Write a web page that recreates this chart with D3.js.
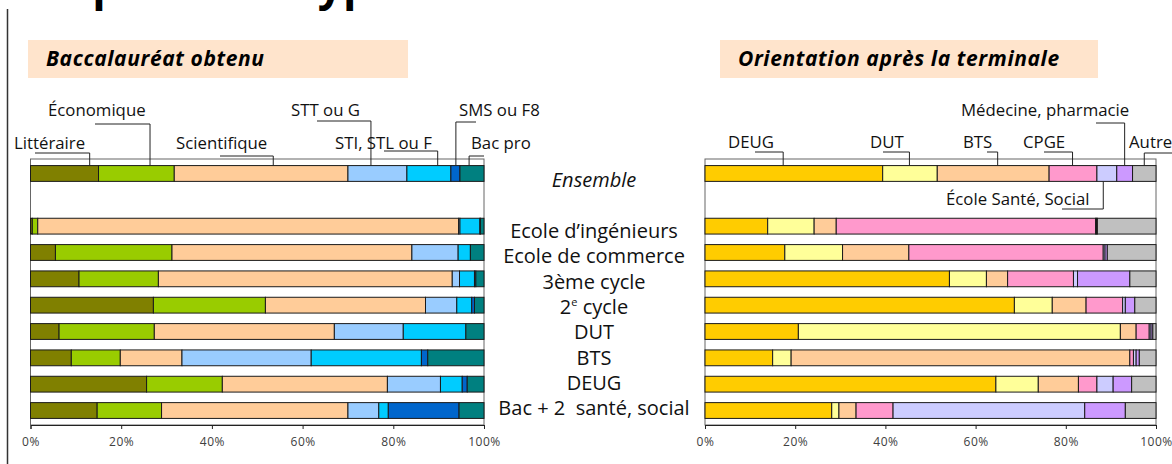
<!DOCTYPE html>
<html>
<head>
<meta charset="utf-8">
<script src="https://cdn.jsdelivr.net/npm/d3@7"></script>
<style>
  body { margin: 0; background: #fff; }
  svg { display: block; font-family: "Open Sans", "DejaVu Sans", sans-serif; }
</style>
</head>
<body>
<div id="chart"></div>
<script>
var W = 1172, H = 464;

// rows (the "" entry is the empty slot under Ensemble)
var rows = ["Ensemble", "", "Ecole d’ingénieurs", "Ecole de commerce", "3ème cycle", "2e cycle", "DUT", "BTS", "DEUG", "Bac + 2\u00a0 santé, social"];

// Baccalauréat obtenu
var bacSeries = ["Littéraire", "Économique", "Scientifique", "STT ou G", "STI, STL ou F", "SMS ou F8", "Bac pro"];
var bacColors = ["#808000", "#99cc00", "#ffcc99", "#99ccff", "#00ccff", "#0066cc", "#008080"];
var bacValues = [
  [15.0, 16.7, 38.3, 13.0, 9.7, 2.0, 5.3],
  null,
  [0.4, 1.2, 92.8, 0.3, 4.4, 0.1, 0.8],
  [5.5, 25.7, 52.9, 10.2, 2.7, 0.0, 3.0],
  [10.7, 17.5, 64.8, 1.6, 3.3, 0.3, 1.8],
  [27.1, 24.7, 35.3, 6.9, 3.3, 0.6, 2.1],
  [6.3, 21.0, 39.7, 15.2, 13.8, 0.0, 4.0],
  [9.0, 10.8, 13.6, 28.5, 24.3, 1.4, 12.4],
  [25.6, 16.7, 36.4, 11.7, 4.8, 1.1, 3.7],
  [14.7, 14.2, 41.1, 6.8, 2.1, 15.6, 5.5]
];

// Orientation après la terminale
var oriSeries = ["DEUG", "DUT", "BTS", "CPGE", "École Santé, Social", "Médecine, pharmacie", "Autre"];
var oriColors = ["#ffcc00", "#ffff99", "#ffcc99", "#ff99cc", "#ccccff", "#cc99ff", "#c0c0c0"];
var oriValues = [
  [39.4, 12.1, 24.8, 10.6, 4.4, 3.5, 5.2],
  null,
  [13.9, 10.3, 4.9, 57.5, 0.2, 0.2, 13.0],
  [17.7, 12.8, 14.7, 43.1, 0.4, 0.5, 10.8],
  [54.2, 8.2, 4.7, 14.6, 0.9, 11.6, 5.8],
  [68.6, 8.4, 7.5, 8.1, 0.6, 2.1, 4.7],
  [20.7, 71.4, 3.5, 2.9, 0.4, 0.4, 0.7],
  [15.0, 4.1, 75.1, 0.8, 0.6, 0.7, 3.7],
  [64.5, 9.4, 8.9, 4.1, 3.6, 4.1, 5.4],
  [28.1, 1.6, 3.8, 8.2, 42.5, 9.0, 6.8]
];

var ticks = [0, 20, 40, 60, 80, 100];

// leader label placement (frac = where in the Ensemble segment the leader lands)
var bacLabels = [
  {x: 14, y: 149, frac: 0.87, ly: 153, lx: 35},
  {x: 48, y: 116, frac: 0.68, ly: 124, lx: 95},
  {x: 176, y: 149, frac: 0.57, ly: 156, lx: 220},
  {x: 291, y: 116, frac: 0.39, ly: 121, lx: 317},
  {x: 335, y: 149, frac: 0.70, ly: 151, lx: 384},
  {x: 459, y: 116, frac: 0.55, ly: 122, lx: 476},
  {x: 471, y: 149, frac: 0.38, ly: 156, lx: 484}
];
var oriLabels = [
  {x: 728, y: 148, frac: 0.44, ly: 152, lx: 755},
  {x: 870, y: 148, frac: 0.49, ly: 152, lx: 883},
  {x: 963, y: 148, frac: 0.54, ly: 152, lx: 987},
  {x: 1023, y: 148, frac: 0.49, ly: 152, lx: 1044},
  {x: 946, y: 205, frac: 0.32, ly: 209, lx: 1062, below: true},
  {x: 961, y: 116, frac: 0.5, ly: 123, lx: 1096},
  {x: 1129, y: 148, frac: 0.5, ly: 153, lx: 1172}
];

var svg = d3.select("#chart").append("svg")
  .attr("width", W)
  .attr("height", H);

// page title, cut by the top edge as in the source page
svg.append("text")
  .attr("x", 30)
  .attr("y", 0)
  .attr("font-size", "44px")
  .attr("font-weight", "bold")
  .attr("fill", "#000")
  .text("Le parcours type des étudiants");

svg.append("line")
  .attr("x1", 7.5).attr("x2", 7.5)
  .attr("y1", 9).attr("y2", H)
  .attr("stroke", "#333")
  .attr("stroke-width", 1.5);

var y = d3.scaleBand()
  .domain(d3.range(rows.length))
  .range([159, 425])
  .paddingInner(0.4)
  .paddingOuter(0.25);

function panel(x0, x1, title, boxX, boxW, series, colors, values, labels) {
  var x = d3.scaleLinear().domain([0, 100]).range([x0, x1]);
  var g = svg.append("g");

  // header box
  g.append("rect")
    .attr("x", boxX).attr("y", 40)
    .attr("width", boxW).attr("height", 38)
    .attr("fill", "#ffe4cc");
  g.append("text")
    .attr("x", boxX + 18).attr("y", 66)
    .attr("font-size", "21px")
    .attr("letter-spacing", "0.6px")
    .attr("font-weight", "bold")
    .attr("font-style", "italic")
    .attr("fill", "#000")
    .text(title);

  // plot frame
  g.append("rect")
    .attr("x", x0).attr("y", y.range()[0])
    .attr("width", x1 - x0).attr("height", y.range()[1] - y.range()[0])
    .attr("fill", "none")
    .attr("stroke", "#666")
    .attr("stroke-width", 1);

  var table = [];
  values.forEach(function(v, i) {
    if (!v) return;
    var o = {row: i};
    series.forEach(function(s, j) { o[s] = v[j]; });
    table.push(o);
  });
  var stacked = d3.stack().keys(series)(table);

  g.selectAll("g.layer")
    .data(stacked)
    .enter().append("g")
    .attr("class", "layer")
    .attr("fill", function(d, i) { return colors[i]; })
    .selectAll("rect")
    .data(function(d) { return d; })
    .enter().append("rect")
    .attr("x", function(d) { return x(d[0]); })
    .attr("width", function(d) { return Math.max(0, x(d[1]) - x(d[0])); })
    .attr("y", function(d) { return y(d.data.row); })
    .attr("height", y.bandwidth())
    .attr("stroke", "#1a1a1a")
    .attr("stroke-width", 1);

  // axis
  var axis = d3.axisBottom(x)
    .tickValues(ticks)
    .tickSize(4)
    .tickFormat(function(d) { return d + "%"; });
  var ax = g.append("g")
    .attr("transform", "translate(0," + y.range()[1] + ")")
    .call(axis);
  ax.select(".domain").attr("stroke", "#222");
  ax.selectAll(".tick line").attr("stroke", "#222");
  ax.selectAll(".tick text")
    .attr("dy", "1.15em")
    .attr("font-size", "12px")
    .attr("letter-spacing", "0.5px")
    .attr("font-family", "'Open Sans', sans-serif")
    .attr("fill", "#404040");

  // leader labels on the Ensemble bar
  var ens = values[0];
  var cum = d3.cumsum(ens);
  labels.forEach(function(l, i) {
    var start = i === 0 ? 0 : cum[i - 1];
    var lx = x(start + l.frac * ens[i]);
    var barTop = y(0), barBot = y(0) + y.bandwidth();
    g.append("text")
      .attr("x", l.x).attr("y", l.y)
      .attr("font-size", "16.8px")
      .attr("fill", "#111")
      .text(series[i]);
    g.append("path")
      .attr("d", "M" + l.lx + "," + l.ly + "H" + lx + "V" + (l.below ? barBot : barTop))
      .attr("fill", "none")
      .attr("stroke", "#222")
      .attr("stroke-width", 1);
  });
}

panel(30.5, 484, "Baccalauréat obtenu", 28, 380, bacSeries, bacColors, bacValues, bacLabels);
panel(705, 1156, "Orientation après la terminale", 720, 378, oriSeries, oriColors, oriValues, oriLabels);

// row names in the middle
var names = svg.append("g")
  .attr("text-anchor", "middle")
  .attr("font-size", "20px")
  .attr("fill", "#111");
rows.forEach(function(r, i) {
  if (!r) return;
  var t = names.append("text")
    .attr("x", 594)
    .attr("y", i === 0 ? 187 : 238 + (i - 2) * 25.3);
  if (i === 0) {
    t.attr("font-style", "italic").text(r);
  } else if (r === "2e cycle") {
    t.append("tspan").text("2");
    t.append("tspan").attr("font-size", "11px").attr("dy", "-8").text("e");
    t.append("tspan").attr("dy", "8").text(" cycle");
  } else {
    t.text(r);
  }
});
</script>
</body>
</html>
